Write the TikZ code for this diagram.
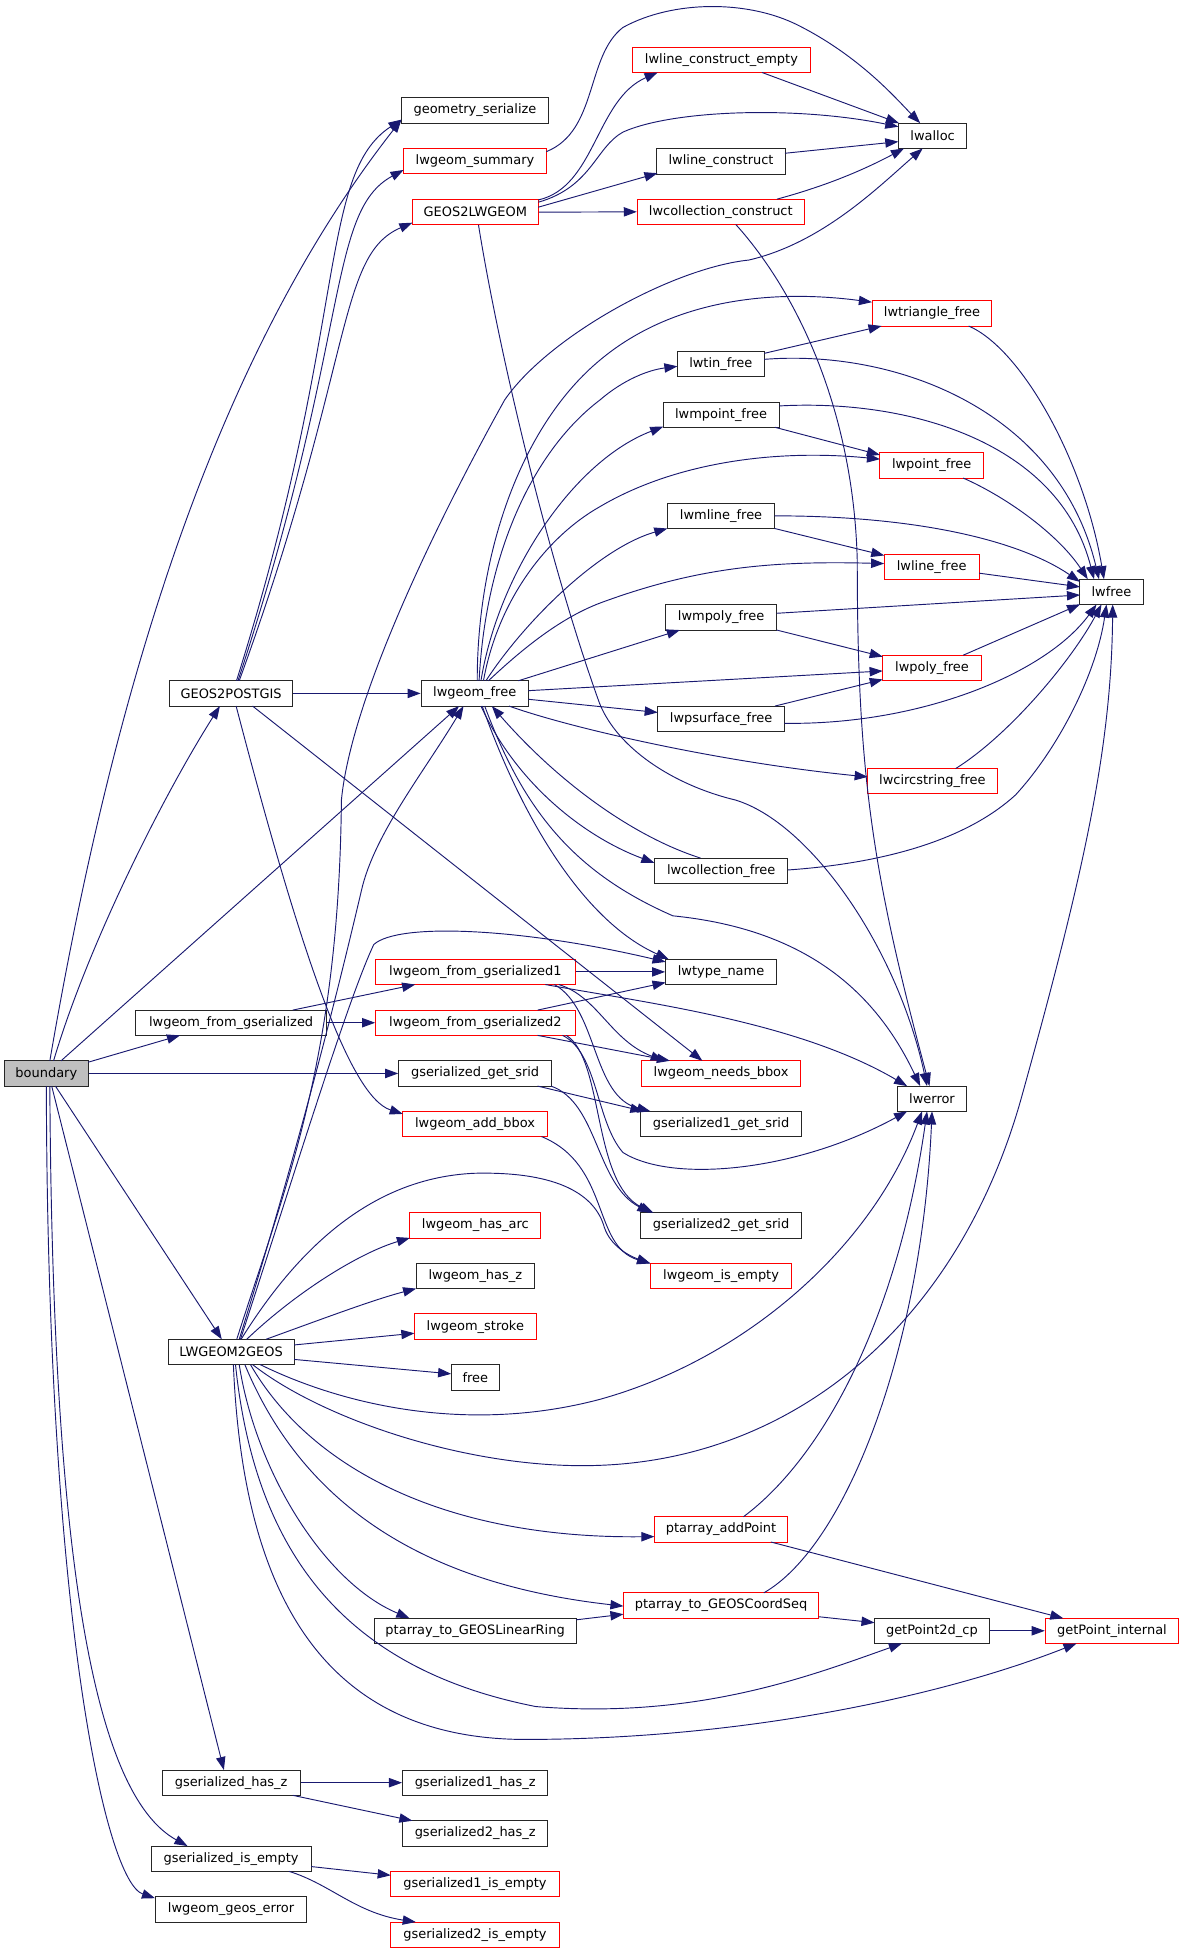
\documentclass[tikz,border=0pt]{standalone}
\usepackage{fontspec}
\setmainfont{DejaVu Sans}
\usetikzlibrary{arrows.meta,calc}
\definecolor{edgec}{HTML}{191970}
\definecolor{redb}{HTML}{FF0000}
\definecolor{grayf}{HTML}{BFBFBF}
\begin{document}
\begin{tikzpicture}[x=1pt,y=-1pt,
  nb/.style={draw=black!85, line width=0.8pt, minimum height=20.3pt, inner sep=0pt,
    font=\fontsize{10.4}{12}\selectfont, fill=white},
  rb/.style={nb, draw=redb},
  gb/.style={nb, fill=grayf},
  cedge/.style={draw=edgec, line width=0.75pt, -{Triangle[length=10.5pt,width=7.5pt]}},
]
\useasboundingbox (0,0) rectangle (950.2,1567.4);
% nodes
\node[gb, minimum width=67pt] (bnd) at (37.2,861.5) {boundary};
\node[nb, minimum width=118pt] (gser) at (381.2,88.7) {geometry\_serialize};
\node[rb, minimum width=114.6pt] (lsum) at (381.2,129.3) {lwgeom\_summary};
\node[rb, minimum width=101pt] (g2l) at (381.5,170.3) {GEOS2LWGEOM};
\node[rb, minimum width=143pt] (lce) at (579,48) {lwline\_construct\_empty};
\node[nb, minimum width=55pt] (lalloc) at (748.5,109) {lwalloc};
\node[nb, minimum width=103pt] (lcon) at (578.7,129.5) {lwline\_construct};
\node[rb, minimum width=134pt] (lcc) at (578.5,170) {lwcollection\_construct};
\node[rb, minimum width=96pt] (ltri) at (748,251.5) {lwtriangle\_free};
\node[nb, minimum width=69.6pt] (ltin) at (578.5,292) {lwtin\_free};
\node[nb, minimum width=93pt] (lmpt) at (578.7,332.8) {lwmpoint\_free};
\node[rb, minimum width=83pt] (lpt) at (747.7,373.5) {lwpoint\_free};
\node[nb, minimum width=86pt] (lmln) at (578.7,414) {lwmline\_free};
\node[rb, minimum width=76pt] (lln) at (747.7,454.8) {lwline\_free};
\node[nb, minimum width=51pt] (lfree) at (892,475) {lwfree};
\node[nb, minimum width=89pt] (lmpoly) at (578.7,495.5) {lwmpoly\_free};
\node[rb, minimum width=79pt] (lpoly) at (748,536) {lwpoly\_free};
\node[nb, minimum width=99pt] (g2p) at (185.5,556.5) {GEOS2POSTGIS};
\node[nb, minimum width=86pt] (lgf) at (381,556.5) {lwgeom\_free};
\node[nb, minimum width=101.6pt] (lps) at (578.7,576.8) {lwpsurface\_free};
\node[rb, minimum width=104pt] (lcs) at (748.3,627) {lwcircstring\_free};
\node[nb, minimum width=107pt] (lcf) at (578.8,698.8) {lwcollection\_free};
\node[nb, minimum width=153pt] (lfg) at (185.5,820.8) {lwgeom\_from\_gserialized};
\node[rb, minimum width=160pt] (lfg1) at (381.5,780) {lwgeom\_from\_gserialized1};
\node[rb, minimum width=160pt] (lfg2) at (381.5,820.8) {lwgeom\_from\_gserialized2};
\node[nb, minimum width=89pt] (ltn) at (578.7,780) {lwtype\_name};
\node[nb, minimum width=122.6pt] (gsrid) at (381.3,861.5) {gserialized\_get\_srid};
\node[rb, minimum width=127pt] (lnb) at (578.7,861.5) {lwgeom\_needs\_bbox};
\node[nb, minimum width=55pt] (lerr) at (748,881.8) {lwerror};
\node[rb, minimum width=116pt] (lab) at (381.3,902) {lwgeom\_add\_bbox};
\node[nb, minimum width=128.6pt] (g1srid) at (578.7,902) {gserialized1\_get\_srid};
\node[rb, minimum width=105pt] (lha) at (381.5,983.5) {lwgeom\_has\_arc};
\node[nb, minimum width=128.6pt] (g2srid) at (578.7,983.5) {gserialized2\_get\_srid};
\node[nb, minimum width=95pt] (lhz) at (381.5,1024) {lwgeom\_has\_z};
\node[rb, minimum width=113.6pt] (lie) at (578.7,1024) {lwgeom\_is\_empty};
\node[rb, minimum width=97.7pt] (lstr) at (381.5,1064.7) {lwgeom\_stroke};
\node[nb, minimum width=101pt] (l2g) at (185.5,1085) {LWGEOM2GEOS};
\node[nb, minimum width=38.7pt] (free) at (381.5,1105.5) {free};
\node[rb, minimum width=107pt] (pap) at (578.7,1227.4) {ptarray\_addPoint};
\node[rb, minimum width=156.6pt] (pcs) at (578.7,1288.5) {ptarray\_to\_GEOSCoordSeq};
\node[nb, minimum width=162pt] (plr) at (381.3,1308.8) {ptarray\_to\_GEOSLinearRing};
\node[nb, minimum width=92pt] (gp2) at (747.9,1308.8) {getPoint2d\_cp};
\node[rb, minimum width=107pt] (gpi) at (892.4,1308.8) {getPoint\_internal};
\node[nb, minimum width=110.6pt] (ghz) at (185.5,1430.7) {gserialized\_has\_z};
\node[nb, minimum width=116.7pt] (g1hz) at (381.4,1430.7) {gserialized1\_has\_z};
\node[nb, minimum width=116.7pt] (g2hz) at (381.4,1471.4) {gserialized2\_has\_z};
\node[nb, minimum width=128.4pt] (gie) at (185.5,1491.7) {gserialized\_is\_empty};
\node[rb, minimum width=135pt] (g1ie) at (381.2,1512) {gserialized1\_is\_empty};
\node[nb, minimum width=121.3pt] (lge) at (185.4,1532.4) {lwgeom\_geos\_error};
\node[rb, minimum width=135pt] (g2ie) at (381.2,1552.7) {gserialized2\_is\_empty};

% boundary edges
\draw[cedge] ($(bnd)+(2.8,-10.15)$) .. controls (90,560) and (170,290) .. ($(gser)+(-59,7.3)$);
\draw[cedge] ($(bnd)+(5.8,-10.15)$) .. controls (70,760) and (130,640) .. ($(g2p)+(-9,10.15)$);
\draw[cedge] ($(bnd)+(11.8,-10.15)$) -- ($(lgf)+(-12.5,10.15)$);
\draw[cedge] ($(bnd)+(33.5,-9)$) -- ($(lfg)+(-41,10.15)$);
\draw[cedge] (bnd.east) -- (gsrid.west);
\draw[cedge] ($(bnd)+(7.3,10.15)$) -- ($(l2g)+(-7.5,-10.15)$);
\draw[cedge] ($(bnd)+(4.3,10.15)$) -- ($(ghz)+(-5.8,-10.15)$);
\draw[cedge] ($(bnd)+(2.8,10.15)$) .. controls (42,1250) and (75,1440) .. ($(gie)+(-35,-10.15)$);
\draw[cedge] ($(bnd)+(0,10.15)$) .. controls (38,1300) and (85,1510) .. ($(lge)+(-61,-9)$);

% GEOS2POSTGIS edges
\draw[cedge] ($(g2p)+(4.3,-10.15)$) .. controls (280,260) and (255,140) .. ($(gser)+(-59,7.3)$);
\draw[cedge] ($(g2p)+(5.5,-10.15)$) .. controls (282,270) and (262,170) .. ($(lsum)+(-57.3,7.1)$);
\draw[cedge] ($(g2p)+(6.5,-10.15)$) .. controls (285,290) and (270,205) .. ($(g2l)+(-50.5,8.4)$);
\draw[cedge] (g2p.east) -- (lgf.west);
\draw[cedge] ($(g2p)+(4,10.15)$) .. controls (240,760) and (280,880) .. ($(lab)+(-58,-8)$);
\draw[cedge] ($(g2p)+(17.2,10.15)$) -- ($(lnb)+(-15,-10.15)$);

% lwgeom_summary
\draw[cedge] ($(lsum)+(57.3,-7.6)$) .. controls (480,105) and (470,45) .. (500,22)
  .. controls (540,0) and (600,0) .. (640,20)
  .. controls (690,45) and (720,80) .. ($(lalloc)+(-10,-10.15)$);

% GEOS2LWGEOM
\draw[cedge] ($(g2l)+(50.5,-9.8)$) .. controls (478,150) and (478,80) .. ($(lce)+(-51.2,10.15)$);
\draw[cedge] ($(g2l)+(50.5,-8)$) .. controls (475,150) and (478,118) .. (500,106)
  .. controls (540,88) and (640,85) .. ($(lalloc)+(-27.5,-7.3)$);
\draw[cedge] ($(g2l)+(50.5,-4)$) -- ($(lcon)+(-51,9.5)$);
\draw[cedge] (g2l.east) -- (lcc.west);
\draw[cedge] ($(g2l)+(2.5,10.15)$) .. controls (400,280) and (440,450) .. (481,564)
  .. controls (495,600) and (540,630) .. (590,642)
  .. controls (650,660) and (720,760) .. ($(lerr)+(-4,-10.15)$);

\draw[cedge] ($(lce)+(32.5,10.15)$) -- ($(lalloc)+(-27,-10.15)$);
\draw[cedge] ($(lcon)+(51.3,-6.5)$) -- ($(lalloc)+(-27.5,4.7)$);
\draw[cedge] ($(lcc)+(45,-10.15)$) .. controls (660,150) and (690,138) .. ($(lalloc)+(-23,10.15)$);
\draw[cedge] ($(lcc)+(12,10.15)$) .. controls (640,235) and (685,330) .. (688,450)
  .. controls (688,620) and (700,700) .. ($(lerr)+(-2,-10.15)$);

% LWGEOM2GEOS
\draw[cedge] ($(l2g)+(4.5,-10.15)$) .. controls (230,950) and (272,850) .. (274,642)
  .. controls (282,560) and (350,420) .. (405,321)
  .. controls (440,270) and (540,215) .. (601,208.7)
  .. controls (660,195) and (705,150) .. ($(lalloc)+(-8,10.15)$);
\draw[cedge] ($(l2g)+(6.5,-10.15)$) .. controls (240,920) and (270,800) .. (290,715)
  .. controls (300,670) and (340,620) .. ($(lgf)+(-9,10.15)$);
\draw[cedge] ($(l2g)+(7.5,-10.15)$) .. controls (240,930) and (280,800) .. (300,758)
  .. controls (320,740) and (420,745) .. ($(ltn)+(-44.5,-8)$);
\draw[cedge] ($(l2g)+(12.5,-10.15)$) .. controls (240,1035) and (290,1005) .. ($(lha)+(-52.5,10)$);
\draw[cedge] ($(l2g)+(28,-10.15)$) .. controls (260,1058) and (300,1043) .. ($(lhz)+(-47.5,10.15)$);
\draw[cedge] ($(l2g)+(50.5,-5.6)$) -- ($(lstr)+(-48.9,5.3)$);
\draw[cedge] ($(l2g)+(50.5,6)$) -- ($(free)+(-19.4,-2.9)$);
\draw[cedge] ($(l2g)+(8,-10.15)$) .. controls (240,1000) and (300,945) .. (381,941.6)
  .. controls (450,940) and (478,960) .. (485,985)
  .. controls (490,1000) and (505,1008) .. ($(lie)+(-56.8,-10.15)$);
\draw[cedge] ($(l2g)+(23.3,10.15)$) .. controls (280,1130) and (380,1150) .. (481.6,1123)
  .. controls (600,1090) and (700,1000) .. ($(lerr)+(-8,10.15)$);
\draw[cedge] ($(l2g)+(17.2,10.15)$) .. controls (260,1140) and (380,1180) .. (481.6,1176)
  .. controls (640,1170) and (770,1060) .. (820,880)
  .. controls (870,700) and (892,600) .. ($(lfree)+(1,10.15)$);
\draw[cedge] ($(l2g)+(15.5,10.15)$) .. controls (250,1180) and (360,1235) .. ($(pap)+(-53.5,5.8)$);
\draw[cedge] ($(l2g)+(11,10.15)$) .. controls (240,1200) and (330,1270) .. ($(pcs)+(-78.3,0.5)$);
\draw[cedge] ($(l2g)+(6.5,10.15)$) .. controls (205,1180) and (260,1270) .. ($(plr)+(-52.7,-10.15)$);
\draw[cedge] ($(l2g)+(3.5,10.15)$) .. controls (205,1250) and (280,1340) .. (430,1369.6)
  .. controls (560,1380) and (650,1345) .. ($(gp2)+(-24,10.15)$);
\draw[cedge] ($(l2g)+(1.8,10.15)$) .. controls (195,1280) and (260,1395) .. (420,1396)
  .. controls (600,1396) and (760,1360) .. ($(gpi)+(-28.4,10.15)$);

% ptarray
\draw[cedge] ($(pap)+(18,-10.15)$) .. controls (660,1170) and (720,1060) .. ($(lerr)+(-4,10.15)$);
\draw[cedge] ($(pap)+(40,10.15)$) -- ($(gpi)+(-39,-10)$);
\draw[cedge] ($(pcs)+(34.3,-10.15)$) .. controls (680,1240) and (740,1080) .. ($(lerr)+(0,10.15)$);
\draw[cedge] ($(pcs)+(78.3,9)$) -- ($(gp2)+(-46,-6.5)$);
\draw[cedge] ($(plr)+(81,-8.8)$) -- ($(pcs)+(-78.3,7)$);
\draw[cedge] (gp2.east) -- (gpi.west);

% gserialized
\draw[cedge] (ghz.east) -- (g1hz.west);
\draw[cedge] ($(ghz)+(49.5,10.15)$) -- ($(g2hz)+(-50.4,-10.15)$);
\draw[cedge] ($(gie)+(64.2,6.3)$) -- ($(g1ie)+(-67.6,-7)$);
\draw[cedge] ($(gie)+(46.4,10.15)$) .. controls (265,1512) and (285,1535) .. ($(g2ie)+(-47.5,-10.15)$);

% lwgeom_free
\draw[cedge] ($(lgf)+(2,-10.15)$) .. controls (383,440) and (420,340) .. (481.5,289)
  .. controls (540,240) and (620,232) .. ($(ltri)+(-48.2,-9)$);
\draw[cedge] ($(lgf)+(3.5,-10.15)$) .. controls (390,440) and (430,360) .. (481.5,321)
  .. controls (500,305) and (520,297) .. ($(ltin)+(-34.8,2)$);
\draw[cedge] ($(lgf)+(5,-10.15)$) .. controls (400,460) and (460,370) .. ($(lmpt)+(-46.4,9.6)$);
\draw[cedge] ($(lgf)+(7,-10.15)$) .. controls (400,480) and (440,430) .. (481.5,406.6)
  .. controls (540,372) and (620,360) .. ($(lpt)+(-41.4,-5)$);
\draw[cedge] ($(lgf)+(9,-10.15)$) .. controls (420,500) and (480,440) .. ($(lmln)+(-43.1,10.15)$);
\draw[cedge] ($(lgf)+(11,-10.15)$) .. controls (420,520) and (450,496) .. (481.5,484)
  .. controls (560,455) and (620,450) .. ($(lln)+(-38.1,-2.5)$);
\draw[cedge] ($(lgf)+(35,-10.15)$) -- ($(lmpoly)+(-33,10.15)$);
\draw[cedge] ($(lgf)+(43,-2.2)$) -- ($(lpoly)+(-39.6,2.5)$);
\draw[cedge] ($(lgf)+(43,4.7)$) -- ($(lps)+(-50.8,-5)$);
\draw[cedge] ($(lgf)+(27.5,10.15)$) .. controls (460,585) and (580,612) .. ($(lcs)+(-51.9,-3.5)$);
\draw[cedge] ($(lgf)+(5,10.15)$) .. controls (415,630) and (470,672) .. ($(lcf)+(-53.6,-6.3)$);
\draw[cedge] ($(lgf)+(6,10.15)$) .. controls (420,660) and (470,740) .. ($(ltn)+(-42,-10.15)$);
\draw[cedge] ($(lgf)+(8,10.15)$) .. controls (420,650) and (460,700) .. (540,735)
  .. controls (640,745) and (700,790) .. ($(lerr)+(-9.5,-10.15)$);
\draw[cedge] ($(lcf)+(-16.6,-10.15)$) .. controls (510,672) and (450,630) .. ($(lgf)+(13.7,10.15)$);

% into lwfree
\draw[cedge] ($(ltri)+(29.4,10.15)$) .. controls (820,280) and (870,370) .. ($(lfree)+(-6,-10.15)$);
\draw[cedge] ($(ltin)+(34.8,-3.6)$) .. controls (720,280) and (850,330) .. ($(lfree)+(-10,-10.15)$);
\draw[cedge] ($(lmpt)+(46.6,-7)$) .. controls (730,320) and (850,355) .. ($(lfree)+(-14,-10.15)$);
\draw[cedge] ($(lpt)+(25.3,10.15)$) .. controls (810,400) and (850,430) .. ($(lfree)+(-19,-10.15)$);
\draw[cedge] ($(lmln)+(43,0)$) .. controls (740,414) and (820,435) .. ($(lfree)+(-25.2,-8)$);
\draw[cedge] ($(lln)+(38.1,5.2)$) -- ($(lfree)+(-25.2,-4)$);
\draw[cedge] ($(lmpoly)+(44.5,-3.3)$) -- ($(lfree)+(-25.2,2.5)$);
\draw[cedge] ($(lpoly)+(25,-10.15)$) -- ($(lfree)+(-25.2,10)$);
\draw[cedge] ($(lps)+(50.8,3.7)$) .. controls (740,582) and (840,540) .. ($(lfree)+(-12,10.15)$);
\draw[cedge] ($(lcs)+(18.6,-10.15)$) .. controls (810,590) and (860,530) .. ($(lfree)+(-8,10.15)$);
\draw[cedge] ($(lcf)+(53.6,-0.6)$) .. controls (720,692) and (780,670) .. (815,638)
  .. controls (850,600) and (880,540) .. ($(lfree)+(-4,10.15)$);

\draw[cedge] ($(ltin)+(34.8,-8.4)$) -- ($(ltri)+(-40.5,10.15)$);
\draw[cedge] ($(lmpt)+(43.3,10.15)$) -- ($(lpt)+(-41.5,-8.4)$);
\draw[cedge] ($(lmln)+(43,10.15)$) -- ($(lln)+(-38,-9)$);
\draw[cedge] ($(lmpoly)+(44.5,10.1)$) -- ($(lpoly)+(-39.5,-9)$);
\draw[cedge] ($(lps)+(43.3,-10.15)$) -- ($(lpoly)+(-39.5,9.3)$);

% lwgeom_from_gserialized
\draw[cedge] ($(lfg)+(49.5,-10.15)$) -- ($(lfg1)+(-48.3,10.15)$);
\draw[cedge] (lfg.east) -- (lfg2.west);
\draw[cedge] (lfg1.east) -- (ltn.west);
\draw[cedge] ($(lfg1)+(56.2,10.15)$) .. controls (520,805) and (640,820) .. ($(lerr)+(-20,-10.15)$);
\draw[cedge] ($(lfg1)+(67,10.15)$) .. controls (480,800) and (490,835) .. ($(lnb)+(-46,-10.15)$);
\draw[cedge] ($(lfg1)+(63.5,10.15)$) .. controls (480,810) and (475,880) .. ($(g1srid)+(-56.7,-10.15)$);
\draw[cedge] ($(lfg2)+(50,-10.15)$) -- ($(ltn)+(-44.5,8.5)$);
\draw[cedge] ($(lfg2)+(50,10.15)$) -- ($(lnb)+(-41,-10.15)$);
\draw[cedge] ($(lfg2)+(73,10.15)$) .. controls (485,850) and (475,950) .. ($(g2srid)+(-54.3,-10.15)$);
\draw[cedge] ($(lfg2)+(70,10.15)$) .. controls (480,845) and (478,900) .. (500,925)
  .. controls (540,950) and (640,940) .. ($(lerr)+(-20,10.15)$);
\draw[cedge] ($(gsrid)+(50.2,10.15)$) -- ($(g1srid)+(-62.3,-10.15)$);
\draw[cedge] ($(gsrid)+(61,10.15)$) .. controls (480,885) and (478,950) .. ($(g2srid)+(-56.7,-10.15)$);
\draw[cedge] ($(lab)+(53.3,10.15)$) .. controls (490,935) and (475,1000) .. ($(lie)+(-56.9,-10)$);
\end{tikzpicture}
\end{document}
